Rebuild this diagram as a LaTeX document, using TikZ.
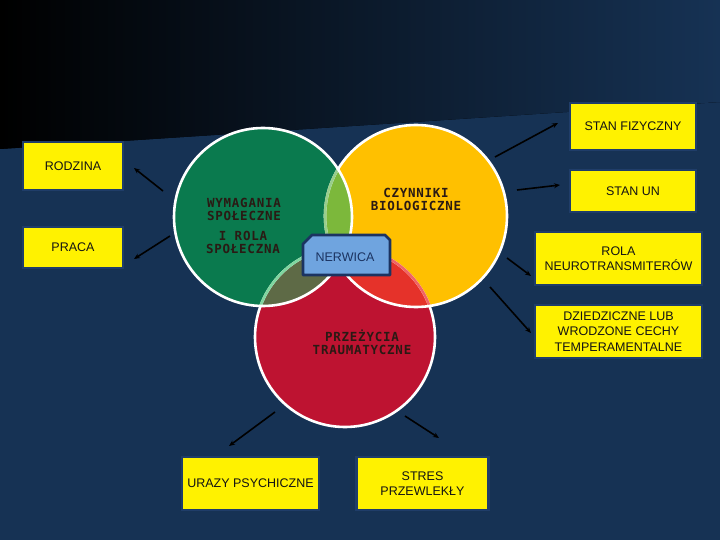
\documentclass[tikz,border=0pt]{standalone}
\usepackage{fontspec}
\setmainfont{Liberation Sans}
\newfontfamily\circfont[LetterSpace=6]{DejaVu Sans Mono}
\usetikzlibrary{arrows.meta}
\definecolor{bg}{HTML}{163254}
\definecolor{cgreen}{HTML}{0A7A4E}
\definecolor{cyellow}{HTML}{FFC000}
\definecolor{cred}{HTML}{BE1331}
\definecolor{lgy}{HTML}{7CB83B}
\definecolor{lgr}{HTML}{5E6A46}
\definecolor{lyr}{HTML}{E5322A}
\definecolor{ltri}{HTML}{8A6A30}
\definecolor{tgreen}{HTML}{80D6A0}
\definecolor{tpink}{HTML}{F06464}
\definecolor{tygreen}{HTML}{98CE8C}
\definecolor{boxedge}{HTML}{1F3D69}
\definecolor{nerfill}{HTML}{6FA4DF}
\definecolor{neredge}{HTML}{1B3361}
\definecolor{circtext}{HTML}{2A1A14}
\tikzset{
  ybox/.style={fill=yellow, draw=boxedge, line width=2.5pt, inner sep=2pt,
    align=center, font=\fontsize{12.5}{15.5}\selectfont, text=black!92},
  ctext/.style={align=center, text=circtext,
    font=\circfont\bfseries\fontsize{12.5}{13}\selectfont},
  arr/.style={-{Stealth[length=6pt,width=5pt]}, line width=1.6pt, black}
}
\begin{document}
\begin{tikzpicture}[x=1pt,y=-1pt]
\useasboundingbox (0,0) rectangle (720,540);
% background
\fill[bg] (0,0) rectangle (720,540);
\fill[left color=black, middle color=bg!78!black, right color=bg] (0,0) -- (720,0) -- (720,102) -- (0,149) -- cycle;

% circle centres
\coordinate (gc) at (263,217);
\coordinate (yc) at (416,216);
\coordinate (rc) at (345,337);
\def\rg{89pt}\def\ry{91pt}\def\rr{90pt}

% fills
\fill[cred] (rc) circle[radius=\rr];
\fill[cyellow] (yc) circle[radius=\ry];
\fill[cgreen] (gc) circle[radius=\rg];
\begin{scope}
  \clip (rc) circle[radius=\rr];
  \fill[lyr] (yc) circle[radius=\ry];
  \fill[lgr] (gc) circle[radius=\rg];
  \clip (yc) circle[radius=\ry];
  \fill[ltri] (gc) circle[radius=\rg];
\end{scope}
\begin{scope}
  \clip (yc) circle[radius=\ry];
  \fill[lgy] (gc) circle[radius=\rg];
  \clip (rc) circle[radius=\rr];
  \fill[ltri] (gc) circle[radius=\rg];
\end{scope}

% outlines
\draw[white, line width=2.6pt] (rc) circle[radius=\rr];
\begin{scope}
  \clip (yc) circle[radius=\ry];
  \draw[tpink, line width=2.6pt] (rc) circle[radius=\rr];
\end{scope}
\begin{scope}
  \clip (gc) circle[radius=\rg];
  \draw[tgreen, line width=2.6pt] (rc) circle[radius=\rr];
\end{scope}
\draw[white, line width=2.6pt] (yc) circle[radius=\ry];
\begin{scope}
  \clip (gc) circle[radius=\rg];
  \draw[tygreen, line width=2.6pt] (yc) circle[radius=\ry];
\end{scope}
\draw[white, line width=2.6pt] (gc) circle[radius=\rg];

% circle texts
\node[ctext] (wym) at (244,209) {WYMAGANIA\\SPOŁECZNE};
\node[ctext] (rola) at (243,242) {I ROLA\\SPOŁECZNA};
\node[ctext] (czyn) at (416,199.5) {CZYNNIKI\\BIOLOGICZNE};
\node[ctext] (prz) at (362,342.5) {PRZEŻYCIA\\TRAUMATYCZNE};

% NERWICA
\filldraw[fill=nerfill, draw=neredge, line width=2.8pt, line join=round]
  (303,244) -- (312,235) -- (385,235) -- (390,240) -- (390,275) -- (303,275) -- cycle;
\node[text=neredge, font=\fontsize{12.5}{15}\selectfont] (ner) at (345,257) {NERWICA};

% boxes
\node[ybox, minimum width=126pt, minimum height=47pt] (fiz) at (633,126.5) {STAN FIZYCZNY};
\node[ybox, minimum width=126pt, minimum height=42pt] (un) at (633,191) {STAN UN};
\node[ybox, minimum width=167pt, minimum height=53pt] (neu) at (618.5,258.5) {ROLA\\NEUROTRANSMITERÓW};
\node[ybox, minimum width=167pt, minimum height=53pt] (dzi) at (618.5,331.5) {DZIEDZICZNE LUB\\WRODZONE CECHY\\TEMPERAMENTALNE};
\node[ybox, minimum width=100pt, minimum height=48pt] (rod) at (73,166) {RODZINA};
\node[ybox, minimum width=100pt, minimum height=41pt] (pra) at (73,247.5) {PRACA};
\node[ybox, minimum width=137pt, minimum height=53pt] (ura) at (250.5,483.5) {URAZY PSYCHICZNE};
\node[ybox, minimum width=132pt, minimum height=53pt] (str) at (422.5,483.5) {STRES\\PRZEWLEKŁY};

% arrow end points
\coordinate (a1s) at (495,157); \coordinate (a1e) at (558,123);
\coordinate (a2s) at (517,190); \coordinate (a2e) at (560,185);
\coordinate (a3s) at (507,258); \coordinate (a3e) at (531,276);
\coordinate (a4s) at (490,287); \coordinate (a4e) at (531,333);
\coordinate (a5s) at (163,191); \coordinate (a5e) at (134,168);
\coordinate (a6s) at (170,236); \coordinate (a6e) at (134,259);
\coordinate (a7s) at (275,412); \coordinate (a7e) at (229,446);
\coordinate (a8s) at (405,416); \coordinate (a8e) at (439,438);
\foreach \i in {1,...,8} { \draw[arr] (a\i s) -- (a\i e); }
\end{tikzpicture}
\end{document}
